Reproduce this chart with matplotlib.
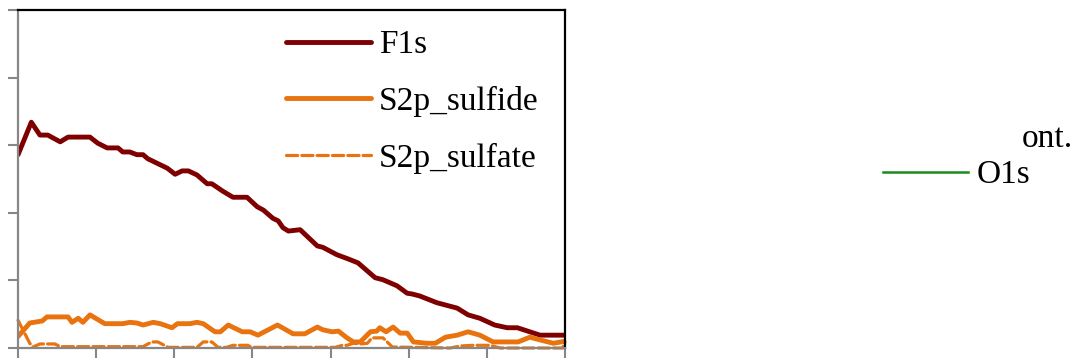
import matplotlib
matplotlib.use("Agg")
import matplotlib.pyplot as plt
from matplotlib.lines import Line2D

# depth profile, atomic concentration vs sputter cycle
f1s_x = [0, 1.7, 2.8, 3.8, 5.4, 6.4, 9.2, 10.2, 11.4, 12.8, 13.4, 14.3, 15.2, 16.0, 16.6,
         19.1, 20.1, 21.0, 21.8, 22.9, 24.2, 24.8, 26.2, 27.5, 29.3, 30.6, 31.4, 32.6,
         33.3, 33.9, 34.6, 36.1, 38.3, 39.0, 40.8, 42.2, 43.5, 45.7, 46.7, 48.5, 49.8,
         50.4, 51.4, 53.6, 56.2, 57.6, 59.1, 61.0, 62.6, 63.9, 66.8, 70]
f1s_y = [2.86, 3.34, 3.15, 3.15, 3.05, 3.12, 3.12, 3.03, 2.96, 2.96, 2.90, 2.90, 2.86, 2.86, 2.80,
         2.66, 2.57, 2.62, 2.62, 2.56, 2.43, 2.43, 2.32, 2.23, 2.23, 2.09, 2.04, 1.92,
         1.88, 1.78, 1.73, 1.75, 1.51, 1.49, 1.38, 1.32, 1.26, 1.04, 1.01, 0.92, 0.81,
         0.80, 0.77, 0.67, 0.59, 0.49, 0.44, 0.34, 0.30, 0.30, 0.19, 0.19]

sulfide_x = [0, 1.5, 3.1, 3.7, 6.4, 6.9, 7.7, 8.3, 9.2, 11.1, 13.4, 14.3, 15.2, 16.0, 17.3,
             18.2, 19.7, 20.4, 22.0, 22.9, 23.7, 25.2, 25.9, 26.9, 28.7, 29.7, 30.7, 33.2,
             35.2, 36.7, 38.3, 39.0, 40.2, 41.0, 42.1, 42.9, 43.8, 45.1, 45.9, 46.3, 47.1,
             48.0, 48.9, 49.8, 50.6, 52.3, 53.4, 54.7, 56.2, 57.6, 59.1, 60.8, 62.6, 64.0,
             65.5, 66.8, 68.5, 70]
sulfide_y = [0.17, 0.37, 0.40, 0.46, 0.46, 0.38, 0.44, 0.38, 0.49, 0.36, 0.36, 0.38, 0.37, 0.34, 0.38,
             0.36, 0.30, 0.36, 0.36, 0.38, 0.36, 0.24, 0.24, 0.34, 0.24, 0.24, 0.19, 0.34,
             0.21, 0.21, 0.31, 0.27, 0.24, 0.25, 0.15, 0.09, 0.09, 0.24, 0.25, 0.30, 0.24,
             0.31, 0.22, 0.22, 0.09, 0.07, 0.07, 0.16, 0.19, 0.24, 0.19, 0.09, 0.09, 0.09,
             0.16, 0.12, 0.07, 0.10]

sulfate_x = [0, 1.5, 1.9, 2.8, 4.7, 5.4, 16.0, 17.1, 17.9, 19.2, 22.9, 23.7, 24.8, 25.6,
             26.7, 27.5, 29.4, 29.9, 40.6, 41.5, 42.1, 42.9, 43.8, 44.7, 45.3, 46.7, 47.9,
             55.3, 56.6, 58.2, 60.4, 61.7, 69.7, 70]
sulfate_y = [0.41, 0.07, 0.015, 0.06, 0.06, 0.02, 0.02, 0.09, 0.09, 0.01, 0.01, 0.09, 0.09, 0.01,
             0.01, 0.04, 0.04, 0.01, 0.01, 0.04, 0.04, 0.07, 0.06, 0.07, 0.15, 0.15, 0.015,
             0, 0.03, 0.04, 0.04, 0, 0, 0.09]

DARKRED = "#7f0000"
ORANGE = "#e8730f"
GREEN = "#1a8a1a"
GREY = "#878787"
FONT = "Liberation Serif"

fig = plt.figure(figsize=(10.74, 3.6), dpi=100)
ax = fig.add_axes([0.0168, 0.0333, 0.5093, 0.9389])

ax.plot(f1s_x, f1s_y, color=DARKRED, lw=3.5, label="F1s", solid_capstyle="round")
ax.plot(sulfide_x, sulfide_y, color=ORANGE, lw=3.5, label="S2p_sulfide", solid_capstyle="round")
ax.plot(sulfate_x, sulfate_y, color=ORANGE, lw=2.3, ls=(0, (3.5, 1.3)),
        dash_capstyle="round", label="S2p_sulfate", clip_on=False)

ax.set_xlim(0, 70)
ax.set_ylim(0, 5)
ax.set_xticks(range(0, 71, 10))
ax.set_yticks(range(0, 6))
ax.tick_params(direction="out", length=7, width=1.5, color=GREY,
               labelbottom=False, labelleft=False)
for side in ("left", "bottom"):
    ax.spines[side].set_color(GREY)
    ax.spines[side].set_linewidth(1.6)
for side in ("top", "right"):
    ax.spines[side].set_color("black")
    ax.spines[side].set_linewidth(1.6)

leg = ax.legend(loc="upper left", bbox_to_anchor=(0.466, 0.981), frameon=False,
                prop={"family": FONT, "size": 24}, handlelength=2.55,
                handletextpad=0.22, labelspacing=0.77, borderaxespad=0)

# second legend entry from the neighbouring panel
fig.add_artist(Line2D([883 / 1074, 968 / 1074], [1 - 172 / 360, 1 - 172 / 360],
                      transform=fig.transFigure, color=GREEN, lw=1.8))
fig.text(977 / 1074, 1 - 183 / 360, "O1s", family=FONT, fontsize=24,
         ha="left", va="baseline")
fig.text(1073 / 1074, 1 - 147 / 360, "ont.", family=FONT, fontsize=24,
         ha="right", va="baseline")

fig.savefig("out.png", dpi=100)
